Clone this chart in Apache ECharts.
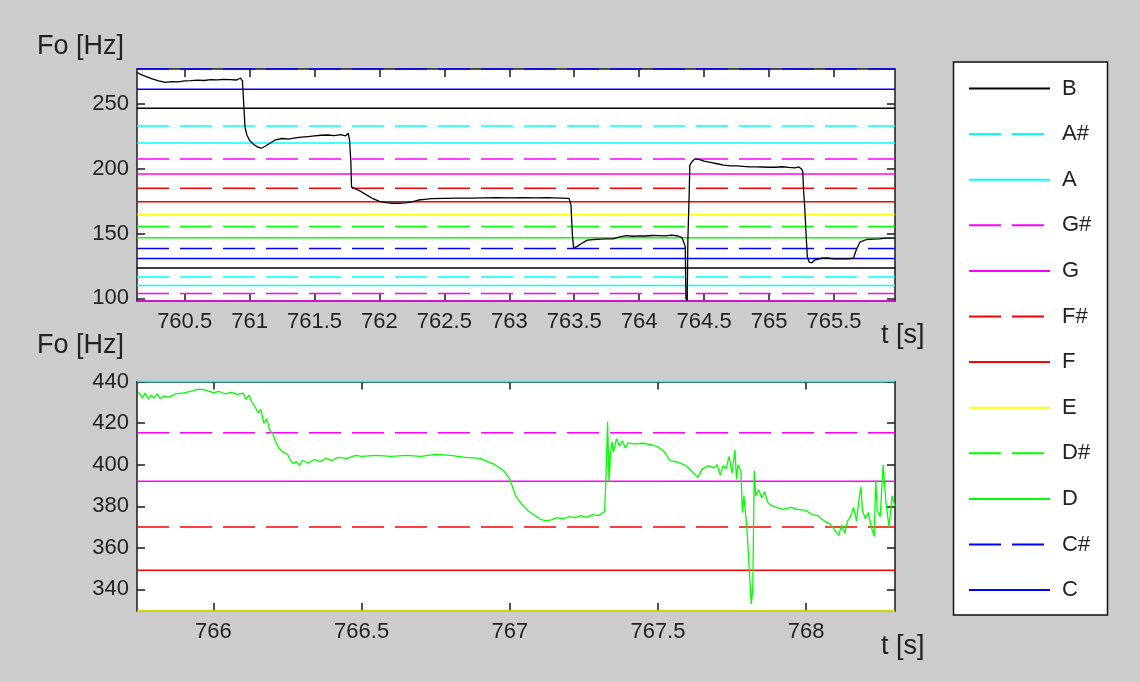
<!DOCTYPE html>
<html><head><meta charset="utf-8">
<script src="https://cdn.jsdelivr.net/npm/echarts@6/dist/echarts.min.js"></script>
<style>html,body{margin:0;padding:0;background:#cccccc;} #c{width:1140px;height:682px;}</style>
</head><body><div id="c"></div>
<script>
// ---------------- DATA ----------------
const legendNotes = ['B','A#','A','G#','G','F#','F','E','D#','D','C#','C'];

const topNoteNames = ['C#','C','B','A#','A','G#','G','F#','F','E','D#','D','C#','C','B','A#','A','G#','G'];
const topNoteFreqs = [277.18,261.63,246.94,233.08,220.00,207.65,196.00,185.00,174.61,164.81,155.56,146.83,138.59,130.81,123.47,116.54,110.00,103.83,98.00];

const lowNoteNames = ['A','G#','G','F#','F','E'];
const lowNoteFreqs = [440.00,415.30,392.00,369.99,349.23,329.63];

const topRangeT = [760.133, 765.97];
const lowRangeT = [765.742, 768.30];

const topTicksT = [760.5,761,761.5,762,762.5,763,763.5,764,764.5,765,765.5];
const topTicksF = [100,150,200,250];
const lowTicksT = [766,766.5,767,767.5,768];
const lowTicksF = [340,360,380,400,420,440];

// F0 contour, upper panel (time s, Hz)
const topT = [760.135,760.16,760.2,760.25,760.3,760.35,760.4,760.45,760.5,760.55,760.6,760.65,760.7,760.75,760.8,760.85,760.9,760.93,760.945,760.955,760.965,760.98,761.0,761.03,761.06,761.09,761.12,761.16,761.2,761.25,761.3,761.35,761.4,761.45,761.5,761.55,761.6,761.65,761.7,761.74,761.76,761.77,761.78,761.785,761.8,761.85,761.9,761.95,762.0,762.05,762.1,762.15,762.2,762.25,762.3,762.35,762.4,762.5,762.6,762.7,762.8,762.9,763.0,763.1,763.2,763.3,763.4,763.46,763.475,763.485,763.495,763.52,763.55,763.6,763.65,763.7,763.75,763.8,763.85,763.9,763.95,764.0,764.05,764.1,764.15,764.2,764.25,764.3,764.33,764.345,764.355,764.36,764.37,764.375,764.385,764.39,764.41,764.43,764.46,764.5,764.55,764.6,764.65,764.7,764.75,764.8,764.85,764.9,764.95,765.0,765.05,765.1,765.15,765.2,765.23,765.25,765.26,765.265,765.275,765.285,765.295,765.31,765.33,765.35,765.4,765.45,765.5,765.55,765.6,765.65,765.67,765.7,765.75,765.8,765.85,765.9,765.97];
const topF = [274.5,273,271.5,269.5,268,266.8,267.5,267.2,268,268.2,268.6,268.3,269,268.8,269.2,269,268.7,270.2,268,250,232,226,222,219,217,216,217.5,220,222.5,223.5,223,224,224.5,225,225.5,226,226.2,225.8,226.5,225.5,227.5,222,205,186,185,183,180,177,175,174,173.5,173.5,173.8,174.5,176,176.5,177,177.3,177.5,177.4,177.6,177.8,177.6,177.8,177.7,177.9,177.5,177.2,172,150,139,140,142,145,145.5,145.8,146,146,147.5,148.5,148,148.3,148.2,148.6,148.5,148.3,148.8,148.2,147,146,140,100,98,145,180,203,206,207.8,207.3,206,205,204,203,202.4,202.3,202,201.6,201.6,201.5,201.3,201.3,201.7,201.2,200.8,201.5,200,198,185,170,150,132,128,127.5,129.5,131,131.2,130.5,130.5,130.6,131,137,143.5,145.5,145.8,146,146.5,146.5];

// F0 contour, lower panel (time s, Hz)
const lowT = [765.747,765.76,765.77,765.78,765.79,765.80,765.81,765.82,765.835,765.85,765.87,765.9,765.93,765.95,765.97,766.0,766.02,766.04,766.06,766.08,766.1,766.11,766.12,766.13,766.14,766.15,766.16,766.17,766.18,766.19,766.2,766.21,766.22,766.235,766.25,766.26,766.27,766.28,766.29,766.3,766.32,766.34,766.36,766.38,766.4,766.42,766.45,766.48,766.5,766.55,766.6,766.65,766.7,766.75,766.8,766.85,766.9,766.95,766.98,767.0,767.02,767.04,767.06,767.08,767.1,767.12,767.14,767.16,767.18,767.2,767.22,767.24,767.26,767.28,767.3,767.32,767.325,767.33,767.335,767.34,767.345,767.35,767.36,767.37,767.38,767.39,767.4,767.42,767.45,767.48,767.5,767.52,767.54,767.56,767.58,767.6,767.62,767.635,767.65,767.67,767.69,767.7,767.71,767.72,767.73,767.74,767.75,767.76,767.765,767.77,767.78,767.785,767.79,767.8,767.81,767.815,767.82,767.825,767.83,767.84,767.85,767.86,767.87,767.88,767.9,767.92,767.95,767.97,768.0,768.02,768.04,768.06,768.08,768.1,768.11,768.12,768.13,768.14,768.15,768.16,768.17,768.18,768.185,768.19,768.2,768.21,768.22,768.23,768.235,768.24,768.25,768.26,768.27,768.28,768.29,768.3];
const lowF = [435,432,434.5,431.5,433.5,432,434,431.8,433,432.5,434,434.5,435.5,436.3,436,434.6,435.2,434,434.8,433.8,434.4,431.5,433.5,430,428,425,426.5,420,422,416.5,415,411,408,406,405,402,400.5,401.5,399.8,402,400.8,402.5,401.5,403,402,403.5,403,404.5,404,404.5,404,404.5,404,405,404.5,403.5,403,400,397,393,385,381,378,376,374,373,373.5,374.5,374,375,374.5,375.5,374.8,376,375.5,377.5,395,420.6,392,405,411,406,412.5,409,411.5,408,410.5,410,410.3,409.5,408.5,406.5,402,401.5,400.5,399,396,394,398,399.5,398.5,400,395,399.5,398,404,396,407,393,400,397,377,385,370,345,333,340,397,385,388,384,387,382,380.5,379.5,378.5,379.5,378.5,378,376,375.5,373,371.5,368,366,371,367,373,375,379.5,373,385,389.5,378,374,377,370,365.5,392.7,378,375,400,381,370,385,380];

// ---------------- STYLE ----------------
const noteStyle = {
  'C':['#0000ff','solid'], 'C#':['#0000ff','dashed'],
  'D':['#00ff00','solid'], 'D#':['#00ff00','dashed'],
  'E':['#ffff00','solid'],
  'F':['#ff0000','solid'], 'F#':['#ff0000','dashed'],
  'G':['#ff00ff','solid'], 'G#':['#ff00ff','dashed'],
  'A':['#00ffff','solid'], 'A#':['#00ffff','dashed'],
  'B':['#000000','solid']
};
const DASH = [32, 11];
const FONT = 'Liberation Sans, Arial, sans-serif';
const AX = '#1a1a1a';

function noteSeries(names, freqs, range, gi){
  return names.map((n,i)=>({
    name:n, type:'line', xAxisIndex:gi*2, yAxisIndex:gi*2,
    data:[[range[0],freqs[i]],[range[1],freqs[i]]],
    symbol:'none', showSymbol:false, silent:true, clip:false, z:2,
    lineStyle:{color:noteStyle[n][0], width:1.5, type: noteStyle[n][1]==='dashed'?DASH:'solid'},
    itemStyle:{color:noteStyle[n][0]}
  }));
}

function xAxes(range, ticks, gi){
  const base = {type:'value', gridIndex:gi, min:range[0], max:range[1],
    axisLine:{show:true, onZero:false, lineStyle:{color:AX, width:1.5}},
    splitLine:{show:false}};
  return [
    Object.assign({}, base, {position:'bottom',
      axisTick:{show:true, inside:true, length:8, customValues:ticks, lineStyle:{color:AX,width:1.5}},
      axisLabel:{show:true, customValues:ticks, color:'#222', fontSize:22, fontFamily:FONT, margin:10}}),
    Object.assign({}, base, {position:'top',
      axisTick:{show:true, inside:true, length:8, customValues:ticks, lineStyle:{color:AX,width:1.5}},
      axisLabel:{show:false}})
  ];
}
function yAxes(range, ticks, gi){
  const base = {type:'value', gridIndex:gi, min:range[0], max:range[1],
    axisLine:{show:true, onZero:false, lineStyle:{color:AX, width:1.5}},
    splitLine:{show:false}};
  return [
    Object.assign({}, base, {position:'left',
      axisTick:{show:true, inside:true, length:8, customValues:ticks, lineStyle:{color:AX,width:1.5}},
      axisLabel:{show:true, customValues:ticks, color:'#222', fontSize:22, fontFamily:FONT, margin:8}}),
    Object.assign({}, base, {position:'right',
      axisTick:{show:true, inside:true, length:8, customValues:ticks, lineStyle:{color:AX,width:1.5}},
      axisLabel:{show:false}})
  ];
}

const topRangeF = [Math.min(...topNoteFreqs), Math.max(...topNoteFreqs)];
const lowRangeF = [Math.min(...lowNoteFreqs), Math.max(...lowNoteFreqs)];

const zip = (a,b)=>a.map((v,i)=>[v,b[i]]);

const series = [
  ...noteSeries(topNoteNames, topNoteFreqs, topRangeT, 0),
  ...noteSeries(lowNoteNames, lowNoteFreqs, lowRangeT, 1),
  {name:'F0 top', type:'line', xAxisIndex:0, yAxisIndex:0, data:zip(topT,topF),
   symbol:'none', z:5, lineStyle:{color:'#000', width:1.3}},
  {name:'F0 low', type:'line', xAxisIndex:2, yAxisIndex:2, data:zip(lowT,lowF),
   symbol:'none', z:5, lineStyle:{color:'#00ff00', width:1.3}}
];

const chart = echarts.init(document.getElementById('c'), null, {renderer:'canvas'});
chart.setOption({
  animation:false,
  backgroundColor:'#cccccc',
  grid:[
    {left:137, top:69, width:758, height:232, show:true, backgroundColor:'#ffffff', borderWidth:0},
    {left:137, top:381.5, width:758, height:229.5, show:true, backgroundColor:'#ffffff', borderWidth:0}
  ],
  xAxis:[...xAxes(topRangeT, topTicksT, 0), ...xAxes(lowRangeT, lowTicksT, 1)],
  yAxis:[...yAxes(topRangeF, topTicksF, 0), ...yAxes(lowRangeF, lowTicksF, 1)],
  legend:{
    data:legendNotes, orient:'vertical', left:968, top:77.5, bottom:0, padding:0,
    itemWidth:81, itemHeight:14, itemGap:23.6, selectedMode:false,
    itemStyle:{color:'rgba(0,0,0,0)', borderWidth:0, opacity:0},
    textStyle:{fontSize:22, fontFamily:FONT, color:'#222', padding:[0,0,0,7]}
  },
  graphic:[
    {type:'rect', z:-1, shape:{x:953.5, y:62, width:154, height:553},
     style:{fill:'#ffffff', stroke:'#111', lineWidth:1.5}},
    {type:'text', left:37, top:33, style:{text:'Fo [Hz]', font:'27px '+FONT, fill:'#222'}},
    {type:'text', left:37, top:332, style:{text:'Fo [Hz]', font:'27px '+FONT, fill:'#222'}},
    {type:'text', left:881, top:322, style:{text:'t [s]', font:'27px '+FONT, fill:'#222'}},
    {type:'text', left:881, top:633, style:{text:'t [s]', font:'27px '+FONT, fill:'#222'}}
  ],
  series
});
</script></body></html>
